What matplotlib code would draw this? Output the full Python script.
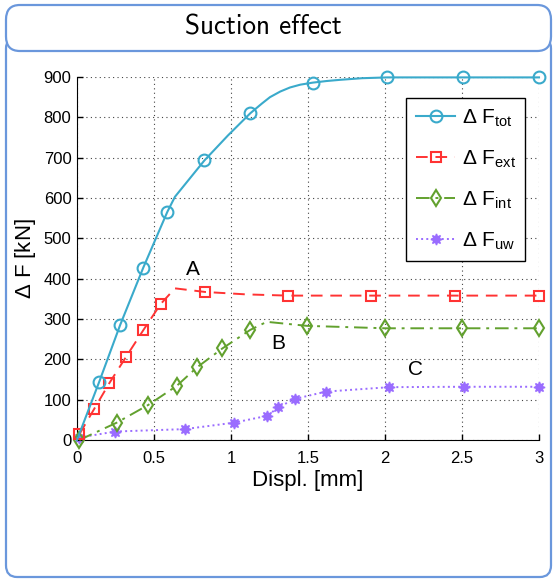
import numpy as np
import matplotlib
matplotlib.use('Agg')
import matplotlib.pyplot as plt
from matplotlib.patches import FancyBboxPatch

plt.rcParams['font.family'] = ['Liberation Sans', 'DejaVu Sans']
plt.rcParams['mathtext.fontset'] = 'custom'
plt.rcParams['mathtext.rm'] = 'Liberation Sans'
plt.rcParams['mathtext.it'] = 'Liberation Sans'

# Data (displacement in mm, force in kN)
tot_x = [0.0, 0.145, 0.28, 0.43, 0.587, 0.636, 0.827, 0.98, 1.125, 1.2, 1.253, 1.32, 1.383,
         1.45, 1.53, 1.62, 1.708, 1.85, 2.015, 2.506, 3.0]
tot_y = [0, 145, 285, 427, 566, 603, 693, 755, 810, 834, 850, 864, 874,
         881, 886, 890, 893, 897, 899, 899, 899]
tot_marks = [1, 2, 3, 4, 6, 8, 14, 18, 19, 20]

ext_x = [0.015, 0.11, 0.21, 0.32, 0.43, 0.543, 0.636, 0.833, 1.1, 1.37, 1.91, 2.457, 3.0]
ext_y = [14, 76, 141, 207, 272, 337, 376, 367, 361, 358, 358, 358, 358]
ext_marks = [0, 1, 2, 3, 4, 5, 7, 9, 10, 11, 12]

int_x = [0.015, 0.258, 0.463, 0.647, 0.779, 0.944, 1.125, 1.232, 1.494, 2.0, 2.498, 3.0]
int_y = [0, 43, 87, 134, 180, 227, 273, 293, 283, 277, 277, 277]
int_marks = [0, 1, 2, 3, 4, 5, 6, 8, 9, 10, 11]

uw_x = [0.015, 0.247, 0.70, 1.02, 1.236, 1.307, 1.416, 1.617, 2.028, 2.513, 3.0]
uw_y = [6, 21, 27, 43, 60, 81, 102, 120, 131, 132, 132]

c_tot = '#3aaacb'
c_ext = '#ff3333'
c_int = '#62a12e'
c_uw = '#9a6cff'

fig = plt.figure(figsize=(5.53, 5.80), dpi=100)

# block frame (body + title bar)
frame_col = '#6a97dc'
body = FancyBboxPatch((6 / 553, 3 / 580), 545 / 553, 540 / 580,
                      boxstyle='round,pad=0,rounding_size=0.02', transform=fig.transFigure,
                      facecolor='white', edgecolor=frame_col, lw=1.6, zorder=-2)
fig.patches.append(body)
head = FancyBboxPatch((6 / 553, 529 / 580), 545 / 553, 46 / 580,
                      boxstyle='round,pad=0,rounding_size=0.025', transform=fig.transFigure,
                      facecolor='white', edgecolor=frame_col, lw=1.6, zorder=-1)
fig.patches.append(head)
fig.text(263 / 553, 1 - 27 / 580, 'Suction effect', ha='center', va='center', fontsize=19.6,
         family=['cmss10', 'DejaVu Sans'])

ax = fig.add_axes([77 / 553, 1 - 440 / 580, 462 / 553, 363 / 580])
ax.set_zorder(3)

ax.plot(tot_x, tot_y, '-', color=c_tot, lw=1.5, marker='o', ms=8.5, mfc='none', mew=1.5,
        markevery=tot_marks, label=r'$\Delta$ F$_{\rm tot}$', clip_on=False, zorder=5)
ax.plot(ext_x, ext_y, '--', color=c_ext, lw=1.4, dashes=(6, 4), marker='s', ms=6.5, mfc='none',
        mew=1.5, markevery=ext_marks, label=r'$\Delta$ F$_{\rm ext}$', clip_on=False, zorder=4)
ax.plot(int_x, int_y, '-.', color=c_int, lw=1.4, dashes=(7, 3, 1.5, 3), marker='d', ms=8.5,
        mfc='none', mew=1.5, markevery=int_marks, label=r'$\Delta$ F$_{\rm int}$',
        clip_on=False, zorder=3)
ax.plot(uw_x, uw_y, ':', color=c_uw, lw=1.4, marker=(8, 1, 0), ms=8, mfc=c_uw, mec=c_uw,
        label=r'$\Delta$ F$_{\rm uw}$', clip_on=False, zorder=2)

ax.set_xlim(0, 3)
ax.set_ylim(0, 900)
ax.set_xticks([0, 0.5, 1, 1.5, 2, 2.5, 3])
ax.set_xticklabels(['0', '0.5', '1', '1.5', '2', '2.5', '3'])
ax.set_yticks(np.arange(0, 901, 100))
ax.tick_params(labelsize=12, direction='in', length=4, width=1)
ax.tick_params(axis='x', pad=8)
ax.tick_params(axis='y', pad=4)
ax.grid(True, linestyle=(0, (1, 3)), color='#444444', lw=0.8)
ax.spines['top'].set_visible(False)
ax.spines['right'].set_visible(False)
ax.set_xlabel('Displ. [mm]', fontsize=16, labelpad=3)
ax.set_ylabel(r'$\Delta$ F [kN]', fontsize=16, labelpad=4)

ax.text(0.753, 422, 'A', fontsize=15, ha='center', va='center')
ax.text(1.305, 240, 'B', fontsize=15, ha='center', va='center')
ax.text(2.2, 174, 'C', fontsize=15, ha='center', va='center')

leg = ax.legend(loc='upper right', bbox_to_anchor=(0.970, 0.942), fontsize=15,
                fancybox=False, edgecolor='black', framealpha=1, handlelength=1.9,
                labelspacing=0.95, borderpad=0.45, handletextpad=0.3, borderaxespad=0)
leg.get_frame().set_linewidth(1.0)

fig.savefig('out.png', dpi=100)
